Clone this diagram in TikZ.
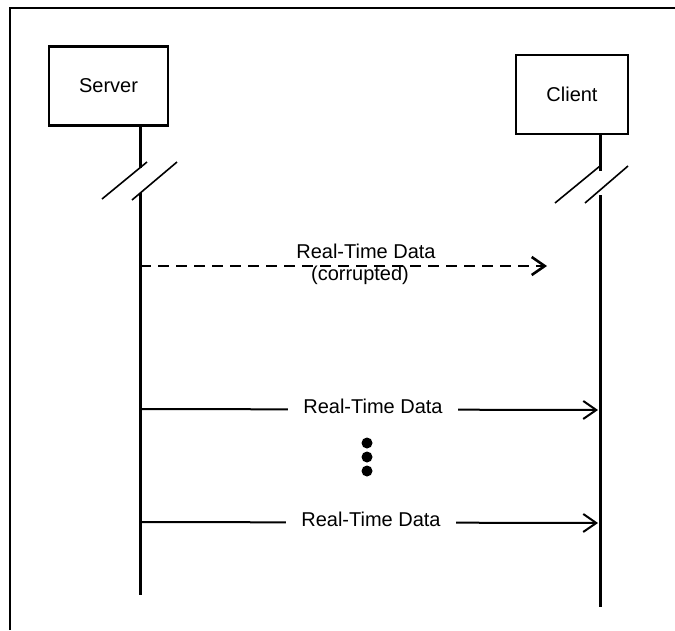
\documentclass[tikz,border=0pt]{standalone}
\usepackage{fontspec}
\setmainfont{Liberation Sans}
\usetikzlibrary{arrows.meta}
\begin{document}
\begin{tikzpicture}[x=1pt,y=-1pt,
  frameline/.style={line width=1.6pt},
  actor/.style={draw, line width=2.4pt, minimum width=#1, minimum height=79pt, inner sep=0pt, font=\fontsize{20}{24}\selectfont},
  lifeline/.style={line width=3pt},
  slash/.style={line width=1.6pt},
  msg/.style={line width=2pt, -{Straight Barb[length=13pt,width=18pt,line width=2pt]}},
  dmsg/.style={line width=2.6pt, dash pattern=on 11pt off 7pt, -{Straight Barb[length=13pt,width=18pt,line width=2.6pt]}},
  lbl/.style={font=\fontsize{20}{24}\selectfont, inner sep=0pt},
  gaplbl/.style={lbl, fill=white, inner xsep=15pt, inner ysep=2pt},
  dot/.style={circle, fill=black, inner sep=0pt, minimum size=11pt}
]
\useasboundingbox (0,0) rectangle (675,630);
\draw[frameline] (10,630) -- (10,8) -- (675,8);

\node[actor=119pt] (server) at (108.5,86) {Server};
\node[actor=112pt] (client) at (572,94.5) {Client};

% lifeline coordinates
\coordinate (s0) at (140,126);
\coordinate (s1) at (140,168);
\coordinate (s2) at (140,193);
\coordinate (s3) at (140,595);
\coordinate (c0) at (600,133);
\coordinate (c1) at (600,171);
\coordinate (c2) at (600,195);
\coordinate (c3) at (600,607);

\draw[lifeline] (s0) -- (s1);
\draw[lifeline] (s2) -- (s3);
\draw[lifeline] (c0) -- (c1);
\draw[lifeline] (c2) -- (c3);

\coordinate (sa1) at (102,199); \coordinate (sb1) at (147,162);
\coordinate (sa2) at (132,200); \coordinate (sb2) at (177,162);
\coordinate (ca1) at (555,203); \coordinate (cb1) at (600,166);
\coordinate (ca2) at (585,203); \coordinate (cb2) at (628,166);
\draw[slash] (sa1) -- (sb1);
\draw[slash] (sa2) -- (sb2);
\draw[slash] (ca1) -- (cb1);
\draw[slash] (ca2) -- (cb2);

% corrupted message
\coordinate (m0s) at (140,266);
\coordinate (m0e) at (547,266);
\draw[dmsg] (m0s) -- (m0e);
\node[lbl] (m0a) at (366,251) {Real-Time Data};
\node[lbl] (m0b) at (360,275) {(corrupted)};

% message 1
\coordinate (m1s) at (140,409);
\coordinate (m1e) at (598,410);
\draw[msg] (m1s) -- (m1e);
\node[gaplbl] (m1l) at (373,406) {Real-Time Data};

% dots
\node[dot] (d1) at (367,443) {};
\node[dot] (d2) at (367,457) {};
\node[dot] (d3) at (367,471) {};

% message 2
\coordinate (m2s) at (140,522);
\coordinate (m2e) at (598,523);
\draw[msg] (m2s) -- (m2e);
\node[gaplbl] (m2l) at (371,519) {Real-Time Data};
\end{tikzpicture}
\end{document}
